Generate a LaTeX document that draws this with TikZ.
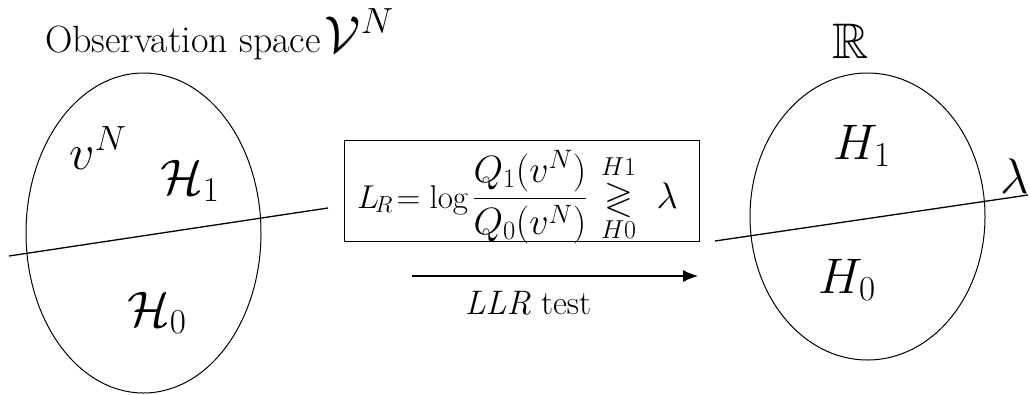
\RequirePackage{fix-cm}
\documentclass[tikz,border=0pt]{standalone}
\usepackage{amsmath,amssymb}
\usetikzlibrary{arrows.meta,shapes.geometric}
\begin{document}
\begin{tikzpicture}[x=1pt,y=-1pt,
  every node/.style={inner sep=0pt,outer sep=0pt},
  region/.style={draw,ellipse,line width=1pt},
  splitline/.style={line width=1.3pt},
  bigmath/.style={font=\fontsize{50}{55}\selectfont},
  testfont/.style={font=\fontsize{34}{38}\selectfont}]
\useasboundingbox (0,0) rectangle (1030,394);
% title
\node[anchor=base west] (title) at (45,52) {{\fontsize{38}{42}\selectfont Observation space}\hspace{4pt}{\fontsize{52}{56}\selectfont$\mathcal{V}^N$}};
% left region
\node[region,minimum width=235pt,minimum height=320pt] (obs) at (143.5,233) {};
\coordinate (ls) at (9,256);
\coordinate (le) at (328,208);
\draw[splitline] (ls) -- (le);
\node[bigmath] (vn) at (98,148) {$v^N$};
\node[bigmath] (calH1) at (190,181) {$\mathcal{H}_1$};
\node[bigmath] (calH0) at (157,313) {$\mathcal{H}_0$};
% box
\node[draw,line width=1pt,minimum width=355pt,minimum height=101pt] (box) at (521.5,190.5) {};
\node[anchor=base west,font=\fontsize{33}{38}\selectfont] (llr) at (357,208) {$L_{\!R}\!=\log$\hspace{0.12em}{\fontsize{38}{44}\selectfont$\dfrac{Q_1(v^N)}{Q_0(v^N)}$}\hspace{0.1em}{\fontsize{37}{40}\selectfont$\;\underset{H0}{\overset{H1}{\gtrless}}\;\lambda$}};
% arrow
\coordinate (as) at (412,276);
\coordinate (ae) at (698,276);
\draw[line width=1.3pt,-{Latex[length=15pt,width=12pt]}] (as) -- (ae);
\node[testfont] (test) at (528,303) {\textit{LLR} test};
% right region
\node[bigmath] (reals) at (851,41) {$\mathbb{R}$};
\node[region,minimum width=235pt,minimum height=287pt] (real) at (867.5,216.5) {};
\coordinate (rs) at (715,241);
\coordinate (re) at (1028,195);
\draw[splitline] (rs) -- (re);
\node[bigmath] (H1) at (862,146) {$H_1$};
\node[bigmath] (H0) at (847,280) {$H_0$};
\node[bigmath] (lam) at (1015,176) {$\lambda$};
\end{tikzpicture}
\end{document}
